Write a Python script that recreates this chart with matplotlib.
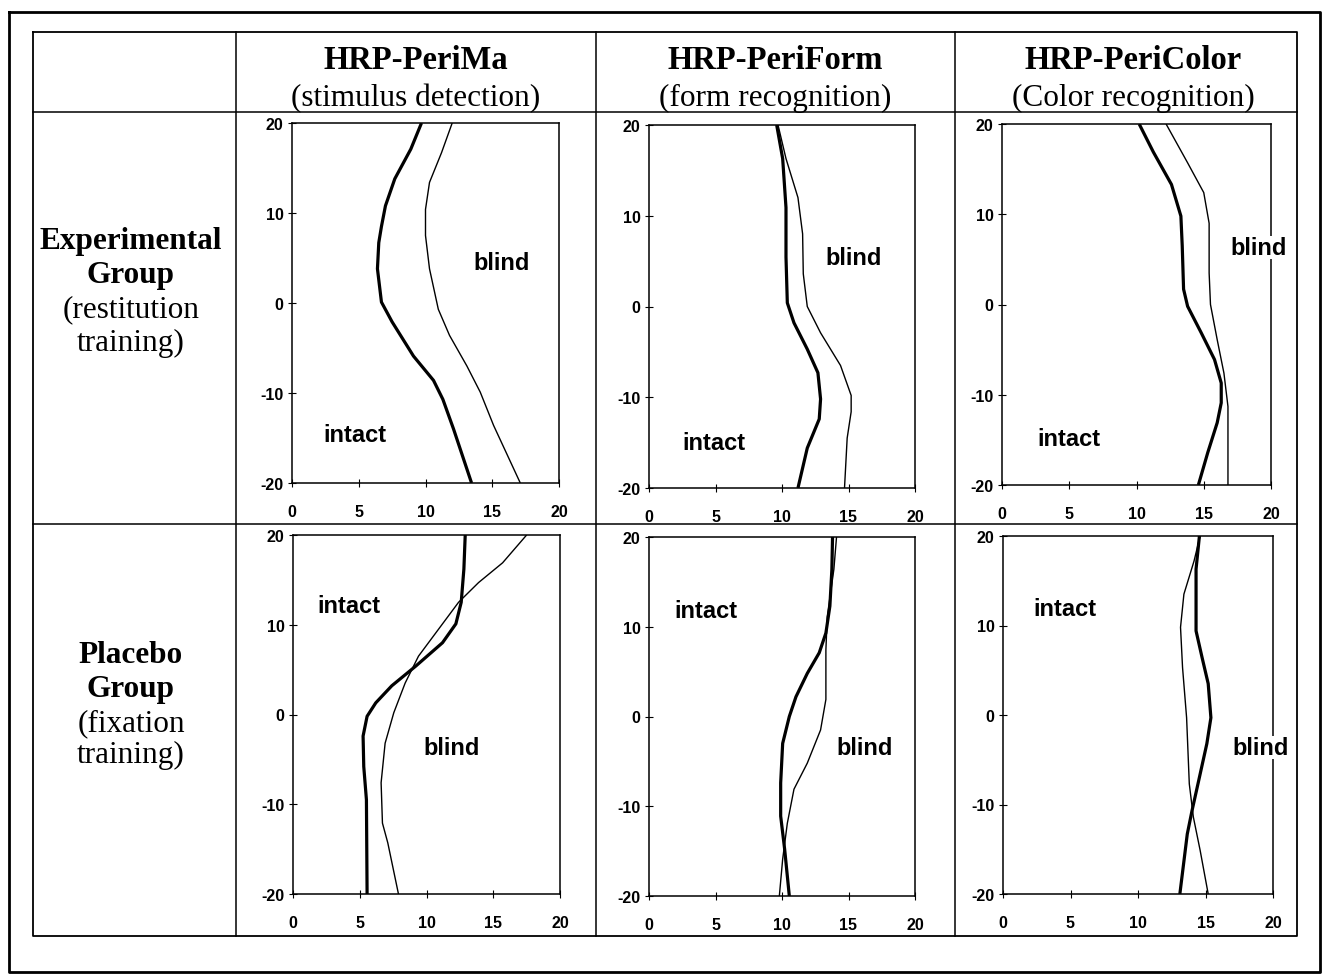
import matplotlib
matplotlib.use("Agg")
import matplotlib.pyplot as plt
from matplotlib.lines import Line2D

plt.rcParams["axes.unicode_minus"] = False

W, H = 1326, 979

# ---------------- data ----------------
col_titles = ["HRP-PeriMa", "HRP-PeriForm", "HRP-PeriColor"]
col_subtitles = ["(stimulus detection)", "(form recognition)", "(Color recognition)"]
row_titles = [["Experimental", "Group", "(restitution", "training)"],
              ["Placebo", "Group", "(fixation", "training)"]]
x_ticks = [0, 5, 10, 15, 20]
y_ticks = [-20, -10, 0, 10, 20]

# Experimental group, PeriMa
p1_thick_y = [20, 17.1, 13.8, 10.8, 8.5, 6.7, 3.8, 0.1, -2.1, -5.9, -8.6, -10.7, -14, -20]
p1_thick_x = [9.7, 8.9, 7.7, 7.0, 6.7, 6.5, 6.4, 6.7, 7.5, 9.1, 10.6, 11.3, 12.1, 13.45]
p1_thin_y = [20, 16.7, 13.4, 10.4, 7.5, 3.8, -0.7, -3.6, -7.0, -9.9, -13.6, -20]
p1_thin_x = [12.0, 11.2, 10.3, 10.0, 10.0, 10.3, 10.96, 11.8, 13.1, 14.1, 15.1, 17.1]

# Experimental group, PeriForm
p2_thick_y = [20, 16.3, 10.9, 5.45, 0.4, -1.8, -4.7, -7.3, -10.2, -12.4, -15.6, -20]
p2_thick_x = [9.6, 10.05, 10.3, 10.3, 10.4, 10.9, 11.9, 12.7, 12.9, 12.8, 11.9, 11.2]
p2_thin_y = [20, 16.3, 12, 8, 3.6, 0, -2.9, -6.5, -9.8, -11.6, -14.5, -20]
p2_thin_x = [9.7, 10.3, 11.2, 11.55, 11.6, 11.9, 12.9, 14.4, 15.2, 15.2, 14.9, 14.7]

# Experimental group, PeriColor
p3_thick_y = [20, 16.9, 13.3, 9.8, 6.5, 1.7, -0.2, -3.1, -6.1, -8.7, -10.9, -13.1, -16.4, -20]
p3_thick_x = [10.2, 11.25, 12.6, 13.3, 13.4, 13.5, 13.8, 14.8, 15.8, 16.3, 16.3, 16.0, 15.3, 14.6]
p3_thin_y = [20, 15.7, 12.4, 9.0, 3.5, 0, -3.9, -7.6, -11.3, -20]
p3_thin_x = [12.2, 13.8, 15.0, 15.4, 15.4, 15.5, 16.0, 16.5, 16.8, 16.8]

# Placebo group, PeriMa
p4_thick_y = [20, 16.2, 12.5, 10.1, 8.0, 5.4, 3.2, 1.3, -0.2, -2.4, -5.8, -9.5, -20]
p4_thick_x = [12.9, 12.8, 12.6, 12.2, 11.2, 9.2, 7.4, 6.2, 5.55, 5.25, 5.3, 5.5, 5.55]
p4_thin_y = [20, 16.9, 14.7, 12.5, 9.5, 6.5, 3.5, 0.2, -3.2, -7.6, -12.1, -14.3, -20]
p4_thin_x = [17.5, 15.7, 13.9, 12.4, 10.9, 9.4, 8.4, 7.55, 6.9, 6.6, 6.7, 7.1, 7.9]

# Placebo group, PeriForm
p5_thick_y = [20, 16.4, 12.3, 9.3, 7.1, 4.8, 2.2, 0, -3, -7.4, -11.1, -14.8, -20]
p5_thick_x = [13.8, 13.75, 13.6, 13.3, 12.8, 11.9, 11.05, 10.55, 10.05, 9.9, 9.9, 10.2, 10.55]
p5_thin_y = [20, 16.4, 11.1, 7.4, 1.9, -1.5, -5.2, -8.1, -11.9, -15.9, -20]
p5_thin_x = [14.1, 13.9, 13.4, 13.3, 13.3, 12.9, 11.9, 10.9, 10.4, 10.05, 9.8]

# Placebo group, PeriColor
p6_thick_y = [20, 16.3, 9.4, 6.4, 3.5, -0.3, -3.2, -7.3, -10.7, -13.3, -20]
p6_thick_x = [14.55, 14.3, 14.3, 14.75, 15.2, 15.4, 15.1, 14.5, 14.0, 13.65, 13.1]
p6_thin_y = [20, 17.2, 13.5, 9.8, 5.3, -0.3, -7.7, -11.4, -15.1, -20]
p6_thin_x = [14.6, 14.15, 13.4, 13.15, 13.3, 13.6, 13.8, 14.1, 14.6, 15.2]

region_labels = ["blind", "intact"]

# ---------------- layout ----------------
panels = [
    dict(box=(292, 559, 124, 484), thick=(p1_thick_x, p1_thick_y), thin=(p1_thin_x, p1_thin_y),
         blind=(15.7, 4.5), intact=(4.7, -14.6)),
    dict(box=(649, 915, 126, 489), thick=(p2_thick_x, p2_thick_y), thin=(p2_thin_x, p2_thin_y),
         blind=(15.4, 5.45), intact=(4.9, -15.0)),
    dict(box=(1002, 1271, 125, 486), thick=(p3_thick_x, p3_thick_y), thin=(p3_thin_x, p3_thin_y),
         blind=(19.1, 6.3), intact=(5.0, -14.8)),
    dict(box=(293, 560, 536, 895), thick=(p4_thick_x, p4_thick_y), thin=(p4_thin_x, p4_thin_y),
         blind=(11.9, -3.7), intact=(4.2, 12.2)),
    dict(box=(649, 915, 538, 897), thick=(p5_thick_x, p5_thick_y), thin=(p5_thin_x, p5_thin_y),
         blind=(16.2, -3.5), intact=(4.3, 11.8)),
    dict(box=(1003, 1273, 537, 895), thick=(p6_thick_x, p6_thick_y), thin=(p6_thin_x, p6_thin_y),
         blind=(19.1, -3.6), intact=(4.6, 11.9)),
]

fig = plt.figure(figsize=(W / 100, H / 100), dpi=100)
fig.patch.set_facecolor("white")

# overlay for table lines and texts (pixel coordinates)
ov = fig.add_axes([0, 0, 1, 1], zorder=0)
ov.set_xlim(0, W)
ov.set_ylim(H, 0)
ov.axis("off")

lk = dict(color="black", solid_capstyle="projecting")
# outer frame
ov.add_line(Line2D([9, 1320, 1320, 9, 9], [13, 13, 973, 973, 13], lw=2.0, **lk))
# inner table
TR, TB = 1297, 937
ov.add_line(Line2D([33, TR, TR, 33, 33], [33, 33, TB, TB, 33], lw=1.3, **lk))
for xv in [236, 596, 955]:
    ov.add_line(Line2D([xv, xv], [33, TB], lw=1.1, **lk))
for yv in [113, 525]:
    ov.add_line(Line2D([33, TR], [yv, yv], lw=1.1, **lk))

serif = "Liberation Serif"
col_centers = [416, 775.5, 1133]
for cx, t, s in zip(col_centers, col_titles, col_subtitles):
    ov.text(cx, 69, t, ha="center", va="baseline", fontsize=23.5, fontweight="bold", family=serif)
    ov.text(cx, 106, s, ha="center", va="baseline", fontsize=22.5, family=serif)

row_baselines = [[249, 283, 317, 351], [663, 697, 731, 763]]
for lines, bases in zip(row_titles, row_baselines):
    for i, (ln, b) in enumerate(zip(lines, bases)):
        ov.text(131, b, ln, ha="center", va="baseline", fontsize=22.5,
                fontweight="bold" if i < 2 else "normal", family=serif)

sans = "Liberation Sans"
for p in panels:
    l, r, t, b = p["box"]
    ax = fig.add_axes([l / W, 1 - b / H, (r - l) / W, (b - t) / H], zorder=2)
    ax.set_facecolor("none")
    ax.set_xlim(0, 20)
    ax.set_ylim(-20, 20)
    ax.plot(*p["thin"], color="black", lw=1.0, solid_capstyle="butt")
    ax.plot(*p["thick"], color="black", lw=2.3, solid_capstyle="butt")
    ax.set_xticks(x_ticks)
    ax.set_yticks(y_ticks)
    ax.tick_params(direction="inout", length=6, width=0.8, labelsize=11.5)
    ax.tick_params(axis="x", pad=12)
    ax.tick_params(axis="y", pad=3)
    for lab in ax.get_xticklabels() + ax.get_yticklabels():
        lab.set_family(sans)
        lab.set_fontweight("bold")
    for sp in ax.spines.values():
        sp.set_linewidth(1.1)
    ax.text(*p["blind"], region_labels[0], ha="center", va="center", fontsize=17,
            fontweight="bold", family=sans, clip_on=False, zorder=5,
            bbox=dict(facecolor="white", edgecolor="none", pad=0))
    ax.text(*p["intact"], region_labels[1], ha="center", va="center", fontsize=17,
            fontweight="bold", family=sans, clip_on=False, zorder=5)

fig.savefig("out.png", dpi=100, facecolor="white")
